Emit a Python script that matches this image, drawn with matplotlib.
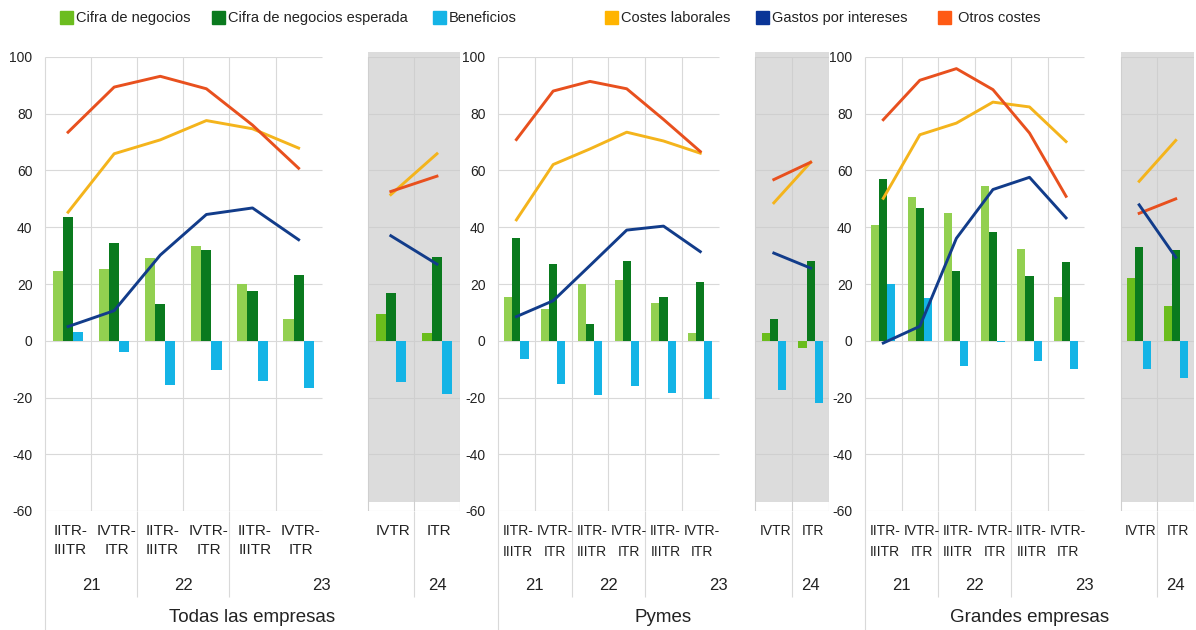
import numpy as np
import matplotlib
matplotlib.use("Agg")
import matplotlib.pyplot as plt
from matplotlib.patches import Rectangle

plt.rcParams['font.family'] = ['Liberation Sans', 'DejaVu Sans']
plt.rcParams['axes.unicode_minus'] = False

nan = np.nan

# =========================
# Datos
# =========================
categorias = ["IITR-\nIIITR", "IVTR-\nITR", "IITR-\nIIITR", "IVTR-\nITR",
              "IITR-\nIIITR", "IVTR-\nITR", "", "IVTR", "ITR"]
anios = ["21", "22", "23", "24"]
anios_pos = [0.5, 2.5, 5.5, 8.0]
paneles = ["Todas las empresas", "Pymes", "Grandes empresas"]

cifra = [
    [24.7, 25.3, 29.0, 33.5, 20.0, 7.6, nan, 9.6, 2.6],
    [15.3, 11.2, 20.0, 21.4, 13.2, 2.9, nan, 2.6, -2.7],
    [40.8, 50.8, 44.9, 54.5, 32.4, 15.3, nan, 22.1, 12.4],
]
cifra_esperada = [
    [43.5, 34.4, 12.9, 32.0, 17.6, 23.3, nan, 16.8, 29.4],
    [36.2, 27.0, 5.9, 28.2, 15.3, 20.6, nan, 7.6, 28.2],
    [57.0, 46.8, 24.7, 38.5, 22.9, 27.9, nan, 33.2, 32.0],
]
beneficios = [
    [3.2, -4.1, -15.5, -10.2, -14.1, -16.7, nan, -14.7, -18.8],
    [-6.5, -15.1, -19.2, -15.9, -18.4, -20.7, nan, -17.4, -21.9],
    [20.0, 14.9, -8.8, -0.3, -7.3, -9.8, nan, -10.1, -13.3],
]
costes_laborales = [
    [45.3, 65.9, 70.8, 77.6, 74.7, 67.9, nan, 51.5, 65.9],
    [42.6, 62.1, 67.6, 73.5, 70.4, 66.1, nan, 48.6, 62.9],
    [50.2, 72.6, 76.7, 84.1, 82.4, 70.2, nan, 56.2, 70.6],
]
gastos_intereses = [
    [5.0, 10.6, 30.2, 44.5, 46.8, 35.6, nan, 37.0, 27.0],
    [8.5, 14.1, 26.5, 39.0, 40.4, 31.4, nan, 30.9, 25.6],
    [-0.8, 5.1, 36.1, 53.3, 57.6, 43.3, nan, 47.9, 29.4],
]
otros_costes = [
    [73.5, 89.4, 93.2, 88.8, 76.0, 60.8, nan, 52.6, 58.0],
    [70.9, 88.0, 91.4, 88.8, 78.0, 66.7, nan, 56.8, 62.9],
    [77.9, 91.8, 95.9, 88.5, 73.2, 50.9, nan, 44.9, 50.0],
]

# =========================
# Estilo
# =========================
c_cifra = "#92D050"
c_cifra_sombra = "#6ABD1C"
c_esperada = "#0A7A1E"
c_benef = "#14B4E6"
c_lab = "#F4B41C"
c_int = "#123C8A"
c_otros = "#E8501E"
c_grid = "#D9D9D9"
c_sombra = "#DCDCDC"

W, H = 1196, 630
fig = plt.figure(figsize=(W / 100, H / 100), dpi=100)

# (izquierda px, ancho px) de cada panel
posiciones = [(45, 415), (498, 331), (865, 329)]
top_px, bot_px = 57, 511
ax_h = bot_px - top_px

x = np.arange(9)
bw = 0.22

for p, (left, width) in enumerate(posiciones):
    ax = fig.add_axes([left / W, (H - bot_px) / H, width / W, ax_h / H])
    ax.set_xlim(-0.5, 8.5)
    ax.set_ylim(-60, 100)
    for s in ax.spines.values():
        s.set_visible(False)
    ax.set_xticks([])
    ax.set_yticks(range(-60, 101, 20))
    ax.tick_params(axis='y', length=0, pad=9, labelsize=10, labelcolor="#222222")

    # zona sombreada
    ax.add_patch(Rectangle((6.5, -56.8), 2, 158.6, color=c_sombra, zorder=0,
                           clip_on=False, lw=0))

    # rejilla
    yg = np.arange(-60, 101, 20)
    ax.hlines(yg, -0.5, 5.5, color=c_grid, lw=0.8, zorder=0.5)
    ax.hlines(yg[1:], 6.5, 8.5, color="#CFCFCF", lw=0.8, zorder=0.5)
    ax.hlines(-60, 6.5, 8.5, color=c_grid, lw=0.8, zorder=0.5)
    ax.vlines(np.arange(0.5, 5, 1), -60, 100, color=c_grid, lw=0.8, zorder=0.5)
    ax.vlines([6.5, 7.5, 8.5], -60, 101.8, color="#CFCFCF", lw=0.8, zorder=0.5)

    # separadores del eje de categorías
    tr = ax.get_xaxis_transform()
    ax.vlines(-0.5, -(630 - bot_px) / ax_h, 1, color=c_grid, lw=0.8,
              transform=tr, clip_on=False)
    ax.vlines([1.5, 3.5, 7.5], -(597 - bot_px) / ax_h, 0, color=c_grid, lw=0.8,
              transform=tr, clip_on=False)

    # barras
    col_cifra = [c_cifra] * 7 + [c_cifra_sombra] * 2
    ax.bar(x - bw, cifra[p], bw, color=col_cifra, zorder=2)
    ax.bar(x, cifra_esperada[p], bw, color=c_esperada, zorder=2)
    ax.bar(x + bw, beneficios[p], bw, color=c_benef, zorder=2)

    # líneas
    ax.plot(x, costes_laborales[p], color=c_lab, lw=2.1, zorder=3)
    ax.plot(x, otros_costes[p], color=c_otros, lw=2.1, zorder=3)
    ax.plot(x, gastos_intereses[p], color=c_int, lw=2.1, zorder=3)

    # etiquetas de categoría
    fs_cat = 11 if p == 0 else 10
    ls_cat = 1.45 if p == 0 else 1.6
    for i, lab in enumerate(categorias):
        if lab:
            ax.text(i + 0.05, -(524 - bot_px) / ax_h, lab, transform=tr,
                    ha='center', va='top', fontsize=fs_cat, linespacing=ls_cat,
                    color="#222222")
    for yr, xp in zip(anios, anios_pos):
        ax.text(xp, -(585 - bot_px) / ax_h, yr, transform=tr, ha='center',
                va='center', fontsize=12, color="#222222")
    ax.text(0.5, -(617 - bot_px) / ax_h, paneles[p], transform=ax.transAxes,
            ha='center', va='center', fontsize=13.5, color="#222222")

# =========================
# Leyenda
# =========================
leyenda = [
    ("Cifra de negocios", "#6CBD1F", 60),
    ("Cifra de negocios esperada", "#0A7A1E", 212),
    ("Beneficios", "#14B4E6", 433),
    ("Costes laborales", "#FFB400", 605),
    ("Gastos por intereses", "#0A3597", 756),
    ("Otros costes", "#FF5A14", 938),
]
for i, (txt, col, px) in enumerate(leyenda):
    fig.patches.append(Rectangle((px / W, (H - 24) / H), 13 / W, 13 / H,
                                 transform=fig.transFigure, color=col))
    gap = 20 if i == 5 else 16
    fig.text((px + gap) / W, (H - 18) / H, txt, ha='left', va='center',
             fontsize=10.5, color="#222222")

fig.savefig("out.png", dpi=100)
